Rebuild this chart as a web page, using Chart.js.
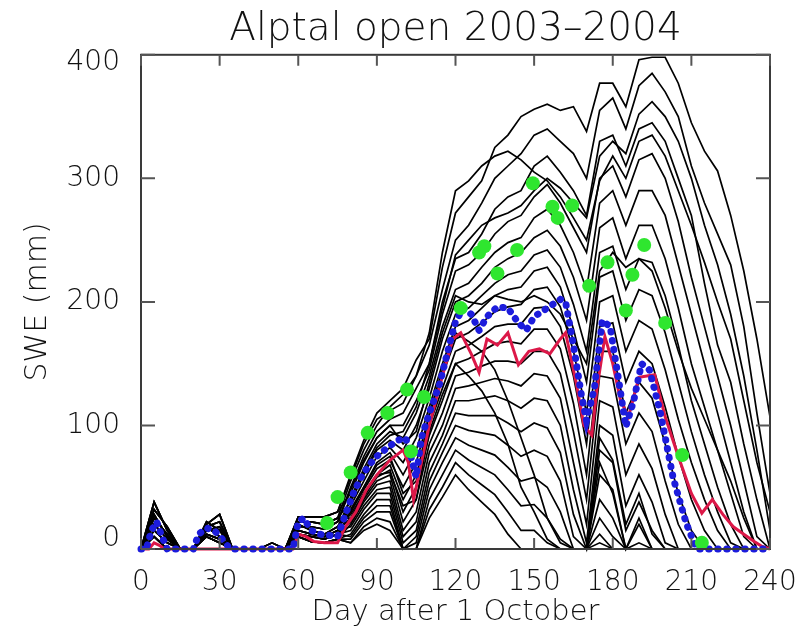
<!DOCTYPE html>
<html>
<head>
<meta charset="utf-8">
<title>Alptal open 2003-2004</title>
<script src="https://cdn.jsdelivr.net/npm/chart.js@4/dist/chart.umd.min.js"></script>
<style>
  html, body { margin: 0; padding: 0; background: #ffffff; }
  canvas { display: block; }
</style>
</head>
<body>
<canvas id="sweChart" width="812" height="632"></canvas>
<script>
// Day grid (days after 1 October) shared by the ensemble members
const gridDays = [0,5,10,15,20,25,30,35,40,45,50,55,60,65,70,75,80,85,90,95,100,105,110,115,120,125,130,135,140,145,150,155,160,165,170,175,180,185,190,195,200,205,210,215,220,225,230,235,240];

// Ensemble members, SWE (mm) on the grid above
const member01 = [0,38,15,0,0,20,28,0,0,0,0,0,26,26,26,30,60,88,110,120,130,153,170,228,272,285,298,325,335,350,356,360,355,358,338,377,377,358,396,398,398,377,345,322,306,270,225,170,107];
const member02 = [0,32,18,0,0,18,22,0,0,0,5,0,22,22,20,25,55,80,100,115,125,140,165,210,250,262,280,300,310,320,335,340,330,320,300,355,365,340,375,385,370,350,310,280,255,230,180,110,45];
const member03 = [0,28,10,0,0,22,15,0,0,0,0,0,18,18,16,22,50,75,95,105,110,130,150,200,235,240,255,275,285,290,310,318,305,290,270,330,335,310,340,345,330,300,270,215,165,135,85,40,0];
const member04 = [0,38,15,0,0,20,28,0,0,0,0,0,26,26,26,30,45,70,90,100,100,120,145,190,225,230,240,255,265,270,285,295,280,260,240,300,310,285,315,320,300,265,220,180,140,100,55,10,0];
const member05 = [0,25,12,0,0,15,18,0,0,0,0,0,20,15,12,18,40,65,85,95,90,110,140,180,210,215,228,240,248,252,268,275,262,240,210,280,290,262,290,290,270,230,190,150,110,70,30,0,0];
const member06 = [0,32,18,0,0,18,22,0,0,0,5,0,22,22,20,25,38,60,80,88,80,100,130,170,200,205,215,228,235,240,252,258,245,220,185,260,268,235,262,262,235,195,150,115,80,45,10,0,0];
const member07 = [0,20,8,0,0,18,10,0,0,0,0,0,15,12,10,15,35,55,75,82,70,90,122,160,190,195,205,215,222,225,238,242,228,198,160,240,245,210,235,232,205,165,120,85,50,20,0,0,0];
const member08 = [0,28,10,0,0,22,15,0,0,0,0,0,18,18,16,22,32,50,70,78,60,80,115,150,180,185,195,205,210,212,225,228,212,178,135,220,225,185,210,205,175,135,95,60,30,5,0,0,0];
const member09 = [0,15,5,0,0,12,8,0,0,0,0,0,12,10,8,12,30,48,65,72,50,70,108,140,170,175,183,192,196,198,210,212,196,160,110,200,205,160,185,178,145,105,70,40,15,0,0,0,0];
const member10 = [0,25,12,0,0,15,18,0,0,0,0,0,20,15,12,18,28,45,60,68,40,60,100,130,160,165,172,180,182,182,195,196,180,140,85,180,183,135,160,150,115,75,40,15,0,0,0,0,0];
const member11 = [0,20,8,0,0,18,10,0,0,0,0,0,15,12,10,15,25,42,58,64,30,50,92,120,150,154,160,166,168,166,178,178,162,118,60,160,160,110,135,122,85,45,15,0,0,0,0,0,0];
const member12 = [0,15,5,0,0,12,8,0,0,0,0,0,12,10,8,12,22,40,55,60,22,40,85,110,140,143,148,152,152,150,160,160,142,95,40,140,138,85,110,95,55,20,0,0,0,0,0,0,0];
const member13 = [0,10,0,0,0,10,5,0,0,0,0,0,10,6,5,8,20,38,52,55,15,30,78,100,130,132,135,138,136,132,142,140,122,70,20,120,115,60,85,65,28,0,0,0,0,0,0,0,0];
const member14 = [0,20,8,0,0,18,10,0,0,0,0,0,15,12,10,15,18,35,48,50,10,22,70,92,120,120,122,124,120,114,122,120,100,48,5,100,92,35,60,38,5,0,0,0,0,0,0,0,0];
const member15 = [0,15,5,0,0,12,8,0,0,0,0,0,12,10,8,12,15,32,45,45,5,15,62,85,110,108,108,108,102,95,102,98,78,28,0,80,70,15,38,15,0,0,0,0,0,0,0,0,0];
const member16 = [0,10,0,0,0,10,5,0,0,0,0,0,10,6,5,8,12,28,40,40,0,10,55,78,100,96,94,92,84,75,80,75,55,10,0,60,48,0,20,0,0,0,0,0,0,0,0,0,0];
const member17 = [0,15,5,0,0,12,8,0,0,0,0,0,12,10,8,12,10,25,35,35,0,5,48,70,90,84,80,76,66,55,58,50,30,0,0,40,25,0,5,0,0,0,0,0,0,0,0,0,0];
const member18 = [0,10,0,0,0,10,5,0,0,0,0,0,10,6,5,8,8,22,30,30,0,0,40,60,80,72,66,60,48,35,36,25,8,0,0,25,10,0,0,0,0,0,0,0,0,0,0,0,0];
const member19 = [0,10,0,0,0,10,5,0,0,0,0,0,10,6,5,8,5,18,25,22,0,0,32,50,70,60,52,44,30,15,15,5,0,0,0,12,0,0,0,0,0,0,0,0,0,0,0,0,0];
const member20 = [0,10,0,0,0,10,5,0,0,0,0,0,10,6,5,8,5,15,20,15,0,0,25,42,60,48,38,28,12,0,0,0,0,0,0,5,0,0,0,0,0,0,0,0,0,0,0,0,0];
const member21 = [0,28,10,0,0,22,15,0,0,0,0,0,18,18,16,22,48,72,90,100,85,95,135,175,205,200,198,205,202,200,205,200,190,170,150,225,240,228,235,225,195,160,130,105,80,55,25,0,0];
const member22 = [0,38,15,0,0,20,28,0,0,0,0,0,26,26,26,30,58,85,105,112,118,140,175,240,290,298,310,318,322,315,305,298,285,268,250,298,318,300,330,335,318,290,262,232,200,170,120,70,30];
const member23 = [0,25,12,0,0,15,18,0,0,0,0,0,20,15,12,18,30,50,68,75,45,55,110,145,175,168,160,145,120,90,60,25,5,0,0,90,72,20,45,12,0,0,0,0,0,0,0,0,0];
const member24 = [0,32,18,0,0,18,22,0,0,0,5,0,22,22,20,25,25,45,60,62,35,40,95,125,150,140,128,110,85,50,30,8,0,0,0,70,45,0,25,0,0,0,0,0,0,0,0,0,0];
const member25 = [0,20,8,0,0,18,10,0,0,0,0,0,15,12,10,15,42,62,82,92,95,115,150,195,238,250,262,268,272,278,290,300,292,280,268,318,330,320,352,362,350,330,300,262,230,190,140,80,15];
const members = [member01, member02, member03, member04, member05, member06, member07, member08, member09, member10,
  member11, member12, member13, member14, member15, member16, member17, member18, member19, member20,
  member21, member22, member23, member24, member25];

// Blue dotted run
const blueDays = [0,2,4,6,8,10,20,22,25,28,31,34,58,60,62,65,68,72,75,78,81,84,87,90,94,98,101,103,105,107,110,114,118,120,123,126,129,132,136,140,144,147,150,155,160,162,165,168,170,173,176,179,182,185,188,191,194,198,203,208,212,240];
const blueSwe = [0,0,15,22,10,0,0,12,17,15,8,0,0,22,25,15,12,11,10,28,45,58,68,75,82,88,90,75,58,90,110,134,168,184,195,190,177,188,196,195,183,177,188,195,202,200,165,125,104,130,185,180,140,99,120,150,145,112,58,21,0,0];

// Red run
const redDays = [0,3,5,7,9,58,60,63,66,70,75,78,82,86,90,95,100,102,104,107,110,115,119,122,126,129,132,136,140,144,148,152,156,160,162,166,169,172,174,177,180,183,186,190,193,196,200,205,210,214,218,222,226,230,234,237,240];
const redSwe = [0,0,5,3,0,0,12,10,6,5,5,18,30,48,60,72,80,70,40,70,100,140,170,175,158,143,170,165,175,149,160,162,158,170,175,135,100,92,130,172,150,120,107,139,140,141,107,75,45,29,40,28,18,12,6,2,0];

// Green observations
const obsDays = [71,75,80,86.5,94,101.5,103,108,122,129,131,136,143.5,149.5,157,159,164.5,171,178,185,187.5,192,200,206.5,214];
const obsSwe = [21,42,62,94,110,129,79,123,195,240,245,223,242,296,277,268,278,213,232,193,222,246,183,76,5];

// Axis ticks
const dayTicks = [0,30,60,90,120,150,180,210,240];
const sweTicks = [0,100,200,300,400];

const fontFamily = "'DejaVu Sans', sans-serif";
const textColor = '#111111';

const toPoints = (xs, ys) => xs.map((x, i) => ({ x: x, y: ys[i] }));

// Frame box with inward tick marks (IDL style)
const framePlugin = {
  id: 'frame',
  afterDatasetsDraw(chart) {
    const { ctx, chartArea: a, scales } = chart;
    ctx.save();
    ctx.strokeStyle = '#3a3a3a';
    ctx.lineWidth = 2;
    ctx.strokeRect(a.left, a.top, a.right - a.left, a.bottom - a.top);
    ctx.strokeStyle = '#555555';
    ctx.beginPath();
    dayTicks.forEach(d => {
      const px = scales.x.getPixelForValue(d);
      ctx.moveTo(px, a.bottom); ctx.lineTo(px, a.bottom - 11);
      ctx.moveTo(px, a.top); ctx.lineTo(px, a.top + 11);
    });
    sweTicks.forEach(v => {
      const py = scales.y.getPixelForValue(v);
      ctx.moveTo(a.left, py); ctx.lineTo(a.left + 14, py);
      ctx.moveTo(a.right, py); ctx.lineTo(a.right - 14, py);
    });
    ctx.stroke();
    ctx.restore();
  }
};

document.addEventListener('DOMContentLoaded', () => {
  const datasets = [];

  datasets.push({
    label: 'Observed',
    data: toPoints(obsDays, obsSwe),
    showLine: false,
    pointRadius: 7,
    pointBackgroundColor: '#2fe62f',
    pointBorderWidth: 0,
    clip: false
  });

  datasets.push({
    label: 'Blue run',
    data: toPoints(blueDays, blueSwe),
    borderColor: '#1c1cdc',
    borderWidth: 7,
    borderDash: [0.5, 8.5],
    borderCapStyle: 'round',
    pointRadius: 0,
    clip: false
  });

  datasets.push({
    label: 'Red run',
    data: toPoints(redDays, redSwe),
    borderColor: '#dc1848',
    borderWidth: 3,
    pointRadius: 0,
    clip: false
  });

  members.forEach((m, i) => {
    datasets.push({
      label: 'Member ' + (i + 1),
      data: toPoints(gridDays, m),
      borderColor: '#000000',
      borderWidth: 1.7,
      pointRadius: 0,
      clip: false
    });
  });

  // the end labels of the SWE axis sit a little inside the frame, as in the original
  const sweLabel = v => (v === 400 ? ['', '400'] : v === 0 ? ['0', ''] : String(v));
  const sweFont = c => {
    const v = c.tick ? c.tick.value : 100;
    return { family: fontFamily, size: 28, weight: 200, lineHeight: v === 400 ? 0.55 : v === 0 ? 0.7 : 1.2 };
  };

  const ctx = document.getElementById('sweChart').getContext('2d');
  new Chart(ctx, {
    type: 'line',
    data: { datasets: datasets },
    options: {
      responsive: false,
      animation: false,
      devicePixelRatio: 1,
      layout: { padding: { left: 0, right: 42, top: 0, bottom: 0 } },
      plugins: {
        legend: { display: false },
        tooltip: { enabled: false },
        title: {
          display: true,
          fullSize: false,
          text: 'Alptal open 2003–2004',
          color: textColor,
          font: { family: fontFamily, size: 39, weight: 200 },
          padding: { top: 6, bottom: 2 }
        }
      },
      scales: {
        x: {
          type: 'linear',
          min: 0,
          max: 240,
          afterFit: s => { s.height = 83; },
          afterBuildTicks: s => { s.ticks = dayTicks.map(v => ({ value: v })); },
          grid: { display: false },
          border: { display: false },
          ticks: { color: textColor, font: { family: fontFamily, size: 28, weight: 200 }, padding: 9, maxRotation: 0 },
          title: {
            display: true,
            text: 'Day after 1 October',
            color: textColor,
            font: { family: fontFamily, size: 29, weight: 200 },
            padding: { top: 0, bottom: 2 }
          }
        },
        y: {
          min: 0,
          max: 400,
          afterFit: s => { s.width = 141; },
          afterBuildTicks: s => { s.ticks = sweTicks.map(v => ({ value: v })); },
          grid: { display: false },
          border: { display: false },
          ticks: { color: textColor, font: sweFont, padding: 13, callback: sweLabel },
          title: {
            display: true,
            text: 'SWE (mm)',
            color: textColor,
            font: { family: fontFamily, size: 30, weight: 200 },
            padding: { top: 20, bottom: 0 }
          }
        }
      }
    },
    plugins: [framePlugin]
  });
});
</script>
</body>
</html>
